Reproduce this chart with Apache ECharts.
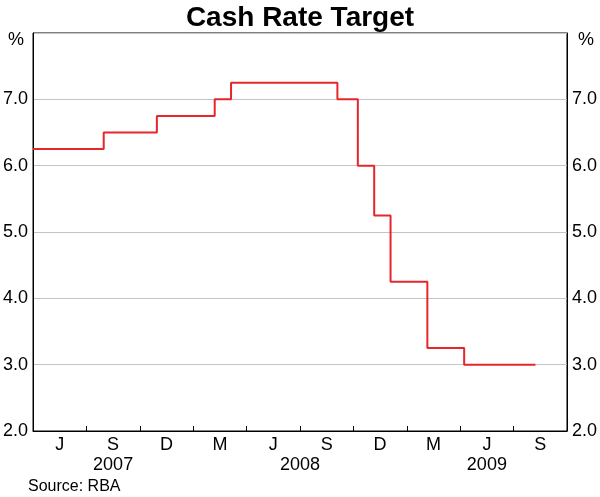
<!DOCTYPE html>
<html>
<head>
<meta charset="utf-8">
<script src="https://cdn.jsdelivr.net/npm/echarts@6/dist/echarts.min.js"></script>
<style>
html,body{margin:0;padding:0;background:#fff;}
#chart{width:600px;height:497px;}
</style>
</head>
<body>
<div id="chart"></div>
<script>
// ---- Data ----
var changeDates = ['2007-04-01','2007-07-31','2007-10-30','2008-02-06','2008-03-05','2008-09-03','2008-10-08','2008-11-05','2008-12-03','2009-02-04','2009-04-08','2009-08-08'];
var cashRate    = [6.25, 6.50, 6.75, 7.00, 7.25, 7.00, 6.00, 5.25, 4.25, 3.25, 3.00, 3.00];
var quarterLabels = ['J','S','D','M','J','S','D','M','J','S'];
var quarterYears  = ['2007','2007','2007','2008','2008','2008','2008','2009','2009','2009'];
var yTicks = ['2.0','3.0','4.0','5.0','6.0','7.0'];
var axisStart = '2007-04-01';
var axisEnd = '2009-10-01';

// ---- Build ----
var seriesData = changeDates.map(function (d, i) { return [d, cashRate[i]]; });
var quarterCats = quarterLabels.map(function (q, i) { return q + '|' + i; });
var yearCenters = {};
(function () {
  var first = {}, count = {};
  quarterYears.forEach(function (y, i) {
    if (first[y] === undefined) { first[y] = i; count[y] = 0; }
    count[y]++;
  });
  Object.keys(first).forEach(function (y) {
    yearCenters[(first[y] + count[y] / 2).toFixed(2)] = y;
  });
})();

var FONT = 'Liberation Sans, Arial, Helvetica, sans-serif';
var FS = 18;
var chart = echarts.init(document.getElementById('chart'), null, {renderer: 'canvas'});
var gridPos = {left: 30, right: 32, top: 33, bottom: 66};

var yLabelFmt = function (v) {
  var s = v.toFixed(1);
  return yTicks.indexOf(s) >= 0 ? s : '';
};

chart.setOption({
  animation: false,
  backgroundColor: '#fff',
  title: {
    text: 'Cash Rate Target',
    left: 'center',
    top: -1,
    textStyle: {fontFamily: FONT, fontWeight: 'bold', fontSize: 28, color: '#000'}
  },
  grid: Object.assign({show: true, borderColor: '#000', borderWidth: 1, backgroundColor: 'transparent'}, gridPos),
  xAxis: [
    {
      type: 'time', min: axisStart, max: axisEnd,
      show: false
    },
    {
      type: 'category', data: quarterCats, boundaryGap: true, position: 'bottom',
      axisLine: {show: true, lineStyle: {color: '#000', width: 1}},
      axisTick: {show: true, inside: true, length: 5, interval: 0, lineStyle: {color: '#000'}},
      axisLabel: {
        interval: 0, margin: 5, color: '#000', fontFamily: FONT, fontSize: FS,
        formatter: function (v) { return v.split('|')[0]; }
      },
      splitLine: {show: false}
    },
    {
      type: 'value', min: 0, max: quarterLabels.length, interval: 0.5, position: 'bottom',
      axisLine: {show: false}, axisTick: {show: false}, splitLine: {show: false},
      axisLabel: {
        margin: 25, color: '#000', fontFamily: FONT, fontSize: FS,
        showMinLabel: true, showMaxLabel: true,
        formatter: function (v) { return yearCenters[v.toFixed(2)] || ''; }
      }
    }
  ],
  yAxis: [
    {
      type: 'value', min: 2, max: 8, interval: 1, position: 'left',
      axisLine: {show: true, lineStyle: {color: '#000'}},
      axisTick: {show: false},
      axisLabel: {margin: 5, color: '#000', fontFamily: FONT, fontSize: FS, formatter: yLabelFmt},
      splitLine: {show: true, lineStyle: {color: '#c4c4c4', width: 1}}
    },
    {
      type: 'value', min: 2, max: 8, interval: 1, position: 'right',
      axisLine: {show: true, lineStyle: {color: '#000'}},
      axisTick: {show: false},
      axisLabel: {margin: 5, color: '#000', fontFamily: FONT, fontSize: FS, formatter: yLabelFmt},
      splitLine: {show: false}
    }
  ],
  graphic: [
    {type: 'text', right: 576, top: 31, style: {text: '%', fill: '#000', font: FS + 'px ' + FONT}},
    {type: 'text', left: 578, top: 31, style: {text: '%', fill: '#000', font: FS + 'px ' + FONT}},
    {type: 'text', left: 28, top: 479, style: {text: 'Source: RBA', fill: '#000', font: '16px ' + FONT}}
  ],
  series: [{
    type: 'line',
    xAxisIndex: 0, yAxisIndex: 0,
    step: 'end',
    data: seriesData,
    symbol: 'none',
    lineStyle: {color: '#e5262b', width: 2},
    z: 3
  }]
});
</script>
</body>
</html>
